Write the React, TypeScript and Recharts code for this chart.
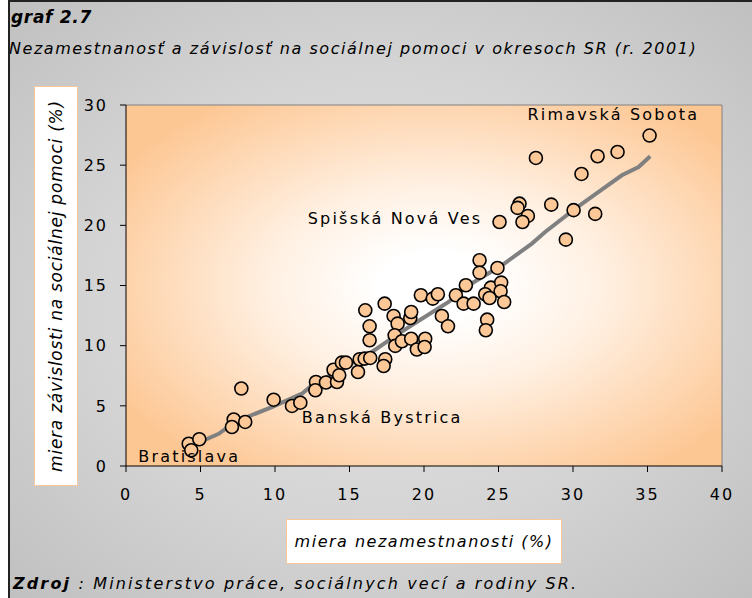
import { ScatterChart, Scatter, XAxis, YAxis, ReferenceArea, ReferenceLine } from 'recharts';

// miera nezamestnanosti (%) per okres
const unemployment = [
  4.21, 4.92, 4.38, 7.74, 7.23, 7.11, 8.0, 9.91, 11.14, 11.7, 12.75, 12.71, 13.42, 13.93, 14.16,
  14.31, 14.49, 14.76, 15.57, 15.68, 16.02, 16.39, 16.35, 16.35, 16.06, 17.36, 17.96, 18.23, 18.03,
  18.07, 17.4, 17.29, 18.52, 19.14, 19.08, 19.14, 19.52, 19.79, 20.08, 20.04, 20.59, 20.93, 21.2,
  21.61, 22.14, 22.81, 22.66, 23.33, 23.73, 23.73, 24.93, 24.49, 25.18, 25.14, 24.11, 24.4, 25.38,
  24.24, 24.15, 35.14, 32.99, 31.65, 27.51, 30.57, 26.41, 26.28, 28.54, 26.97, 26.61, 25.07, 30.04,
  31.49, 29.52,
];
// miera závislosti na sociálnej pomoci (%)
const dependency = [
  1.85, 2.22, 1.31, 6.44, 3.87, 3.24, 3.66, 5.51, 4.99, 5.26, 6.98, 6.29, 6.94, 8.0, 6.98, 7.54,
  8.59, 8.59, 7.81, 8.87, 8.92, 8.98, 10.45, 11.61, 12.94, 13.49, 12.47, 11.83, 10.86, 9.98, 8.87,
  8.31, 10.37, 10.58, 12.3, 12.8, 9.68, 14.19, 10.58, 9.89, 13.91, 14.27, 12.47, 11.61, 14.19, 15.02,
  13.49, 13.49, 17.1, 16.07, 16.46, 14.82, 15.24, 14.52, 14.27, 13.96, 13.63, 12.16, 11.28, 27.46,
  26.1, 25.74, 25.6, 24.27, 21.8, 21.45, 21.72, 20.78, 20.28, 20.28, 21.26, 20.95, 18.81,
];

const trendX = [4.21, 6.22, 7.31, 9.79, 11.81, 12.48, 14.49, 16.5, 18.3, 19.86, 21.65, 23.0, 25.23, 27.24, 28.13, 30.15, 31.72, 33.28, 34.4, 35.18];
const trendY = [1.58, 2.68, 3.66, 4.9, 6.01, 6.71, 8.09, 9.48, 11.0, 12.24, 13.63, 15.02, 16.68, 18.48, 19.45, 21.39, 22.78, 24.16, 24.85, 25.74];

// district name annotations (left edge of the text)
const labelNames = ['Rimavská Sobota', 'Spišská Nová Ves', 'Banská Bystrica', 'Bratislava'];
const labelX = [26.95, 12.2, 11.8, 0.82];
const labelY = [29.2, 20.6, 4.0, 0.75];

const xTicks = [0, 5, 10, 15, 20, 25, 30, 35, 40];
const yTicks = [0, 5, 10, 15, 20, 25, 30];

const points = unemployment.map((x, i) => ({ x, y: dependency[i] }));
const trend = trendX.map((x, i) => ({ x, y: trendY[i] }));
const labels = labelNames.map((name, i) => ({ name, x: labelX[i], y: labelY[i] }));

const FONT = '"DejaVu Sans", Verdana, sans-serif';
const tickStyle = { fill: '#000', fontSize: 16, fontFamily: FONT, letterSpacing: 2 };

export default function App() {
  return (
    <div
      style={{
        position: 'absolute',
        left: 8,
        top: 0,
        width: 744,
        height: 598,
        boxSizing: 'border-box',
        borderLeft: '2px solid #222',
        borderTop: '2px solid #222',
        background: 'radial-gradient(ellipse at 50% 50%, #e4e4e4 0%, #d4d4d4 55%, #c0c0c0 100%)',
        fontFamily: FONT,
        overflow: 'hidden',
      }}
    >
      <div style={{ position: 'absolute', left: 1, top: 5, fontSize: 17, fontWeight: 'bold', fontStyle: 'italic', letterSpacing: 0.7 }}>
        graf 2.7
      </div>
      <div style={{ position: 'absolute', left: -1, top: 37, fontSize: 16, fontStyle: 'italic', letterSpacing: 1.55, whiteSpace: 'nowrap' }}>
        Nezamestnanosť a závislosť na sociálnej pomoci v okresoch SR (r. 2001)
      </div>

      {/* y axis title box */}
      <div
        style={{
          position: 'absolute',
          left: 24,
          top: 84,
          width: 44,
          height: 400,
          background: '#fff',
          border: '1px solid #f8c89a',
          boxSizing: 'border-box',
        }}
      >
        <div
          style={{
            position: 'absolute',
            left: '50%',
            top: '50%',
            transform: 'translate(-50%, -50%) rotate(-90deg)',
            whiteSpace: 'nowrap',
            fontSize: 17,
            fontStyle: 'italic',
            letterSpacing: 0.75,
          }}
        >
          miera závislosti na sociálnej pomoci (%)
        </div>
      </div>

      {/* x axis title box */}
      <div
        style={{
          position: 'absolute',
          left: 276,
          top: 517,
          width: 276,
          height: 45,
          background: '#fff',
          border: '1px solid #f8c89a',
          boxSizing: 'border-box',
          display: 'flex',
          alignItems: 'center',
          justifyContent: 'center',
          fontSize: 16,
          fontStyle: 'italic',
          letterSpacing: 1.5,
        }}
      >
        miera nezamestnanosti (%)
      </div>

      <div style={{ position: 'absolute', left: 3, top: 572, fontSize: 16, fontStyle: 'italic', letterSpacing: 2.15, whiteSpace: 'nowrap' }}>
        <b>Zdroj</b> : Ministerstvo práce, sociálnych vecí a rodiny SR.
      </div>

      <div style={{ position: 'absolute', left: 0, top: 0 }}>
        <ScatterChart width={744} height={598} margin={{ top: 103, right: 32, bottom: 94, left: 56 }}>
          <defs>
            <radialGradient id="plotBg" cx="0.52" cy="0.5" r="0.62">
              <stop offset="0" stopColor="#ffffff" />
              <stop offset="0.15" stopColor="#ffffff" />
              <stop offset="0.45" stopColor="#fff0e2" />
              <stop offset="1" stopColor="#fdc794" />
            </radialGradient>
          </defs>
          <XAxis
            type="number"
            dataKey="x"
            domain={[0, 40]}
            ticks={xTicks}
            height={40}
            tickSize={6}
            tickMargin={17}
            axisLine={{ stroke: '#000' }}
            tickLine={{ stroke: '#000' }}
            tick={tickStyle}
            allowDataOverflow
          />
          <YAxis
            type="number"
            dataKey="y"
            domain={[0, 30]}
            ticks={yTicks}
            width={60}
            tickSize={6}
            tickMargin={12}
            axisLine={{ stroke: '#000' }}
            tickLine={{ stroke: '#000' }}
            tick={tickStyle}
            allowDataOverflow
          />
          <ReferenceArea x1={0} x2={40} y1={0} y2={30} fill="url(#plotBg)" fillOpacity={1} stroke="none" />
          <ReferenceLine y={30} stroke="#808080" />
          <ReferenceLine x={40} stroke="#808080" />
          <Scatter
            data={trend}
            line={{ stroke: '#808080', strokeWidth: 4 }}
            lineType="joint"
            shape={() => <g />}
            isAnimationActive={false}
          />
          <Scatter
            data={points}
            shape={(p: any) => (
              <circle cx={p.cx} cy={p.cy} r={6.5} fill="#fdc897" stroke="#000" strokeWidth={1.6} />
            )}
            isAnimationActive={false}
          />
          <Scatter
            data={labels}
            shape={(p: any) => (
              <text
                x={p.cx}
                y={p.cy}
                textAnchor="start"
                dominantBaseline="central"
                fontSize={16}
                fontFamily={FONT}
                letterSpacing={2.2}
                fill="#000"
              >
                {p.payload.name}
              </text>
            )}
            isAnimationActive={false}
          />
        </ScatterChart>
      </div>
    </div>
  );
}
